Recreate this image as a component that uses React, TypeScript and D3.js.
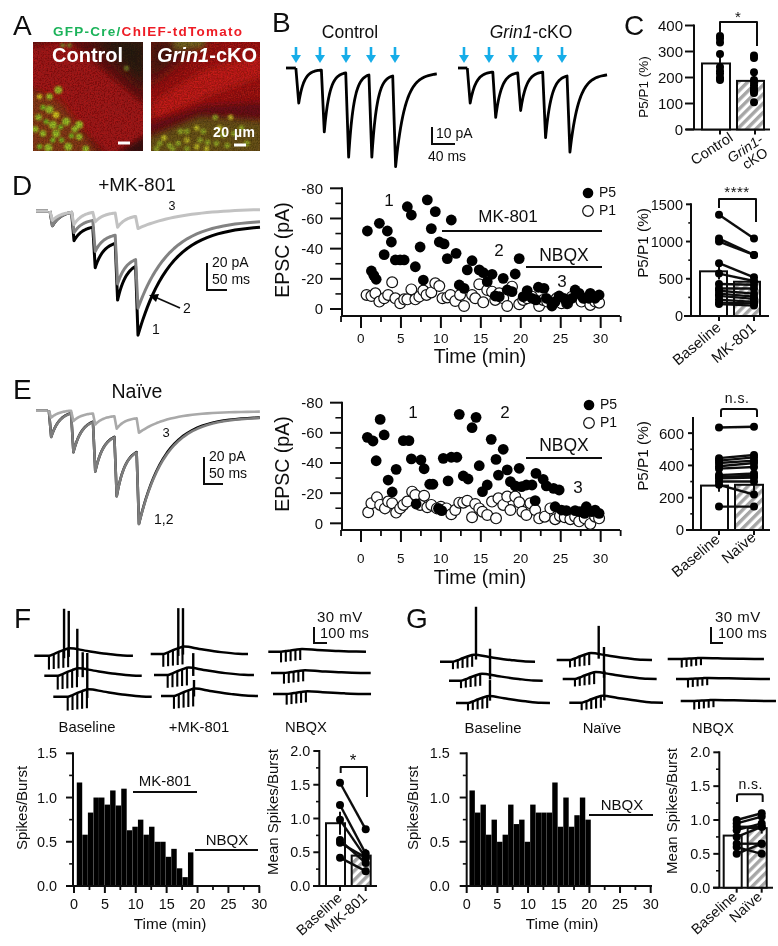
import React from "react";
import * as d3 from "d3";

// ---------- data ----------
type P = [number, number];
const stimOnsetsCtrl = [17, 61, 103, 143, 184];
const ctrlPeaks = [20.6, 37.6, 52.4, 52.4, 58];
const ctrlRests = [1.2, 2.9, 4.1, 4.7, 3.5];
const stimOnsetsKO = [16, 60, 103, 146, 188];
const koPeaks = [20.6, 29, 25, 41, 49.5];
const koRests = [2.4, 2.9, 2.4, 4.7, 4.1];

const dOnsets = [35, 89, 142, 198, 249];
const dPeaks1 = [11, 22, 42, 66, 92];
const dRests1 = [1, 12, 24, 41, 12];
const dPeaks2 = [11, 16, 30, 54, 72];
const dRests2 = [1, 7, 18, 36, 8];
const dPeaks3 = [7, 10, 8, 12, 13];
const dRests3 = [1, 1, 1.5, 4, -1];

const eOnsets = [33, 90, 146, 201, 258];
const ePeaks12 = [19, 30, 44, 62, 82];
const eRests12 = [1.7, 8, 19, 30, 5];
const ePeaks3 = [5, 7.5, 10, 13, 16];
const eRests3 = [0, 2, 4, 5.5, 0.7];

const dP5: P[] = [[0.8,51.7],[1.3,25.2],[1.6,22.3],[1.9,19.7],[2.3,56.8],[2.9,36],[3.3,51.7],[3.8,44.4],[4.3,32.5],[4.9,32.5],[5.4,32.5],[5.8,67.8],[6.3,62.3],[6.8,28],[7.4,41.1],[7.8,19.2],[8.3,72.3],[8.8,53.3],[9.3,64.5],[9.8,44.4],[10.4,43.1],[10.8,33.4],[11.3,59],[11.9,36.9],[12.3,15.9],[12.9,13.7],[13.3,25.9],[13.9,32],[14.8,25.9],[15.3,24.1],[15.8,18.1],[16.4,23],[16.8,8.6],[17.3,8.2],[17.8,20.3],[18.3,12.6],[18.9,11.5],[19.3,23.2],[19.8,33.4],[20.3,8.2],[20.8,12.2],[21.4,7.1],[21.9,6],[22.2,14.4],[22.9,13.7],[23.2,7.1],[23.9,2],[24.3,4.9],[24.8,8.6],[25.4,7.1],[25.8,3.8],[26.4,7.1],[26.8,12.6],[27.3,10.4],[27.8,7.1],[28.5,7.1],[28.7,10.4],[29.3,7.1],[29.8,9.3]];
const dP1: P[] = [[0.7,9.3],[1.3,8.6],[1.8,10.4],[2.3,4.9],[2.9,7.1],[3.4,9.3],[3.9,17.7],[4.3,7.1],[4.9,3.8],[5.4,6.4],[5.8,6.4],[6.3,13],[6.8,6.4],[7.3,8.2],[7.8,12.2],[8.2,9.3],[8.8,11],[9.3,17],[9.8,15.2],[10.2,7.1],[10.8,7.7],[11.2,9.3],[11.8,5.3],[12.4,9.3],[12.9,2],[13.9,9.3],[14.3,7.1],[14.8,16.4],[15.3,4.4],[15.8,12.6],[16.4,11.5],[16.8,6],[17.3,10.4],[17.8,7.1],[18.3,2],[18.9,14.8],[19.8,3.1],[20.3,6],[20.8,7.1],[21.4,8.2],[22.3,2],[22.8,6],[23.3,4.9],[23.9,4.9],[24.5,7.1],[25.1,3.8],[25.8,3.8],[26.4,8.2],[27,8.2],[27.6,4.9],[28.2,7.1],[28.7,2.7],[29.3,4.9],[29.8,4.2]];
const eP5: P[] = [[0.8,57],[1.5,54.6],[1.9,41.5],[2.4,68.9],[2.9,58.6],[3.4,28.7],[3.9,20.8],[4.4,35.8],[5.3,54.8],[6,54.8],[6.3,42.7],[6.9,12.8],[7.5,42],[7.9,36.2],[8.6,25.9],[9,25.9],[9.7,9.9],[10.1,8.4],[10.3,43.1],[10.9,28.1],[11.3,43.8],[12,43.8],[12.3,72.3],[12.8,31.4],[13.4,29.4],[13.9,63.4],[14.4,70.3],[14.8,38.2],[15.2,21],[15.8,25.4],[16.3,55.7],[16.9,42.4],[17.2,32],[17.8,49.1],[18.3,35.4],[18.7,27.6],[19.3,24.8],[19.8,36.5],[20.1,24.3],[20.7,25.4],[21.4,25.4],[21.8,15],[21.9,33.1],[22.8,29.2],[23.2,24.8],[24.1,23.2],[24.8,22.1],[24.3,11],[25.1,8.8],[25.7,8.4],[26.8,8.4],[27.4,7.7],[28,6.6],[28.2,11],[28.9,7.7],[29.3,8.8],[29.8,6.6]];
const eP1: P[] = [[0.9,7.3],[1.3,13.3],[2,17.2],[2.4,12.2],[3,9.9],[3.4,14.4],[3.9,13.3],[4.4,7.1],[4.9,9.9],[5.3,12.2],[5.8,14.4],[6.4,21],[6.8,18.8],[7.4,12.2],[7.9,18.3],[8.3,10.6],[8.8,12.2],[9.5,9.9],[10,11],[10.7,9.9],[11.3,6],[11.8,8.8],[12.3,13.7],[12.8,13.7],[13.3,15],[13.9,4],[14.3,12.8],[14.8,9.9],[15.2,7.7],[15.8,5.5],[16.4,14.4],[16.9,3.3],[17.2,16.6],[17.8,12.2],[18.3,17.7],[18.7,8.8],[19.3,17.7],[19.8,13.9],[20.2,7.7],[20.7,5.5],[21.2,13.3],[21.8,8.8],[22.3,3.3],[23,4.4],[23.7,9.9],[24.3,2.7],[24.9,4.9],[25.5,4],[26.2,2.7],[26.8,4.4],[27.3,1.3],[28,3.3],[28.7,-0.4],[29.3,4.4],[29.8,3.3]];

const cControl = [360, 350, 335, 290, 240, 225, 215, 200, 190];
const cKO = [285, 275, 220, 190, 180, 170, 160, 150, 140, 105];
const dBase = [1360, 1040, 1000, 710, 570, 430, 370, 340, 300, 270, 220, 180, 160];
const dMK = [1040, 820, 820, 520, 470, 420, 370, 300, 260, 230, 190, 170, 140];
const eBase = [635, 445, 430, 415, 395, 380, 340, 330, 320, 300, 280, 145];
const eNaive = [640, 465, 450, 430, 415, 390, 350, 335, 325, 300, 220, 145];
const fBase = [1.53, 1.2, 0.98, 0.68, 0.64, 0.42];
const fMK = [0.84, 0.48, 0.42, 0.34, 0.42, 0.22];
const gBase = [1.0, 0.95, 0.9, 0.85, 0.75, 0.65, 0.6, 0.5];
const gNaive = [1.1, 1.05, 0.9, 0.95, 0.9, 0.65, 0.5, 0.65];

const fHist = [1.17, 0.58, 0.83, 1.0, 1.0, 0.92, 1.08, 0.91, 1.1, 0.63, 0.67, 0.75, 0.58, 0.67, 0.5, 0.5, 0.33, 0.42, 0.2, 0.1, 0.38];
const gHist = [1.08, 0.83, 0.92, 0.58, 0.75, 0.5, 0.58, 0.92, 0.7, 0.75, 0.5, 0.92, 0.83, 0.83, 0.83, 1.17, 0.67, 1.0, 0.67, 0.8, 1.0, 0.75];
const binWidthMin = 0.9;

type Sweep = { dur: number; pre: number; spikes: P[] };
const fSweepsBaseline: Sweep[] = [
  { dur: 822, pre: 122, spikes: [[248, 88], [287, 84]] },
  { dur: 812, pre: 112, spikes: [[275, 88], [320, 44]] },
  { dur: 820, pre: 120, spikes: [[283, 82]] },
];
const fSweepsMK: Sweep[] = [
  { dur: 811, pre: 105, spikes: [[230, 86], [269, 86]] },
  { dur: 833, pre: 114, spikes: [[327, 41]] },
  { dur: 808, pre: 108, spikes: [[275, 30]] },
];
const fSweepsNBQX: Sweep[] = [
  { dur: 814, pre: 106, spikes: [] },
  { dur: 831, pre: 108, spikes: [] },
  { dur: 817, pre: 114, spikes: [] },
];
const gSweepsBaseline: Sweep[] = [
  { dur: 792, pre: 108, spikes: [[300, 103]] },
  { dur: 781, pre: 100, spikes: [[342, 60]] },
  { dur: 783, pre: 100, spikes: [[283, 43]] },
];
const gSweepsNaive: Sweep[] = [
  { dur: 794, pre: 111, spikes: [[350, 64]] },
  { dur: 783, pre: 102, spikes: [[344, 60]] },
  { dur: 781, pre: 103, spikes: [[292, 60]] },
];
const gSweepsNBQX: Sweep[] = [
  { dur: 802, pre: 117, spikes: [] },
  { dur: 783, pre: 100, spikes: [] },
  { dur: 794, pre: 113, spikes: [] },
];

const cellsLeft: P[] = [[.06,.5],[.15,.5],[.23,.44],[.09,.6],[.21,.67],[.30,.73],[.12,.73],[.05,.69],[.21,.84],[.35,.86],[.42,.87],[.32,.96],[.18,.9],[.09,.84],[.42,.76],[.06,.96],[.27,.03],[.33,.03],[.85,.24],[.48,.98],[.15,.62],[.25,.78],[.02,.8],[.14,.97],[.26,.9],[.38,.8],[.18,.76]];
const cellsRight: P[] = [[.42,.79],[.48,.82],[.45,.9],[.52,.92],[.33,.9],[.25,.93],[.17,.95],[.08,.93],[.63,.79],[.66,.85],[.6,.93],[.59,.69],[.73,.69],[.76,.84],[.33,.82],[.27,.82],[.42,.96],[.2,.98],[.05,.98],[.88,.93],[.51,.98],[.33,.98],[.83,.79],[.7,.95],[.12,.88]];

// ---------- helpers ----------
const FONT = "'Liberation Sans', Arial, sans-serif";
const INK = "#111";

function T({ x, y, s = 14, a = "start", c = INK, w, i, ls, rot, children }: any) {
  return (
    <text
      x={rot === undefined ? x : 0}
      y={rot === undefined ? y : 0}
      transform={rot === undefined ? undefined : `translate(${x},${y}) rotate(${rot})`}
      fontSize={s}
      textAnchor={a}
      fill={c}
      fontWeight={w}
      fontStyle={i ? "italic" : undefined}
      letterSpacing={ls}
    >
      {children}
    </text>
  );
}

const L = ({ x1, y1, x2, y2, w = 2, c = INK, cap = "butt" }: any) => (
  <line x1={x1} y1={y1} x2={x2} y2={y2} stroke={c} strokeWidth={w} strokeLinecap={cap} />
);

// EPSC waveform from onsets, peak amplitudes and end-of-pulse levels
function epscPoints(onsets: number[], peaks: number[], rests: number[], end: number, tau: number, tauLast: number, delay: number) {
  const pts: P[] = [];
  let prev = 0;
  onsets.forEach((t0, i) => {
    const next = i < onsets.length - 1 ? onsets[i + 1] : end;
    const tpk = t0 + delay;
    pts.push([t0, prev]);
    pts.push([tpk, peaks[i]]);
    const tt = i < onsets.length - 1 ? tau : tauLast;
    const span = next - tpk;
    const e0 = Math.exp(-span / tt);
    d3.range(1, 31).forEach((k) => {
      const d = (k / 30) ** 1.6 * span;
      const f = (Math.exp(-d / tt) - e0) / (1 - e0);
      pts.push([tpk + d, rests[i] + (peaks[i] - rests[i]) * f]);
    });
    prev = rests[i];
  });
  return pts;
}

function Trace({ ox, oy, pxMs, pxPa, pts, w = 2.4, c = "#000", lead }: any) {
  const x = d3.scaleLinear().domain([0, 1]).range([ox, ox + pxMs]);
  const y = d3.scaleLinear().domain([0, 1]).range([oy, oy + pxPa]);
  const line = d3.line<P>().x((d) => x(d[0])).y((d) => y(d[1]));
  return (
    <g fill="none" stroke={c} strokeWidth={w} strokeLinejoin="round">
      {lead !== undefined && <path d={line([[0, 0], [lead, 0]])!} />}
      <path d={line(pts)!} />
    </g>
  );
}

function YAxis({ x, scale, major, minor = [], fmt = String, s = 14.5, len = 7, gap = 3, top, bottom, w = 2 }: any) {
  return (
    <g>
      <L x1={x} x2={x} y1={top ?? scale(major[major.length - 1]) - 1} y2={bottom ?? scale(major[0])} w={w} />
      {minor.map((v: number) => <L key={v} x1={x - len * 0.55} x2={x} y1={scale(v)} y2={scale(v)} w={1.6} />)}
      {major.map((v: number) => (
        <g key={v}>
          <L x1={x - len} x2={x} y1={scale(v)} y2={scale(v)} w={w} />
          <T x={x - len - gap} y={scale(v) + s * 0.36} s={s} a="end">{fmt(v)}</T>
        </g>
      ))}
    </g>
  );
}

function XAxis({ y, scale, major, minor = [], x1, x2, s = 13.5, len = 12, minorLen = 6, baseline, w = 2, ls }: any) {
  return (
    <g>
      <L x1={x1} x2={x2} y1={y} y2={y} w={w} />
      {minor.map((v: number) => <L key={v} x1={scale(v)} x2={scale(v)} y1={y} y2={y + minorLen} w={1.8} />)}
      {major.map((v: number) => (
        <g key={v}>
          <L x1={scale(v)} x2={scale(v)} y1={y} y2={y + len} w={w} />
          <T x={scale(v)} y={baseline} s={s} a="middle" ls={ls}>{v}</T>
        </g>
      ))}
    </g>
  );
}

const Arrow = ({ x }: { x: number }) => (
  <path d={`M${x - 1.3},47 H${x + 1.3} V55 H${x + 5} L${x},63 L${x - 5},55 H${x - 1.3} Z`} fill="#17ade8" />
);

function Bracket({ x1, x2, yLeft, yTop, yRight }: any) {
  return <path d={`M${x1},${yLeft} V${yTop} H${x2} V${yRight}`} fill="none" stroke={INK} strokeWidth={2} strokeLinejoin="round" />;
}

function Bars({ x1, x2, bw, y, means, sems, groups, paired, r = 4, sw = 2.4 }: any) {
  const y0 = y(0);
  return (
    <g>
      {[x1, x2].map((cx: number, i: number) => (
        <g key={i}>
          <rect x={cx - bw[i][0]} width={bw[i][0] + bw[i][1]} y={y(means[i])} height={y0 - y(means[i])} fill={i ? "url(#hatch)" : "#fff"} stroke={INK} strokeWidth={2} />
          <L x1={cx} x2={cx} y1={y(means[i] + sems[i])} y2={y(means[i] - sems[i])} w={2} />
        </g>
      ))}
      {paired && groups[0].map((v: number, i: number) => (
        <L key={i} x1={x1} x2={x2} y1={y(v)} y2={y(groups[1][i])} w={sw} />
      ))}
      {groups.map((g: number[], k: number) => g.map((v: number, i: number) => (
        <circle key={`${k}-${i}`} cx={k ? x2 : x1} cy={y(v)} r={r} fill="#000" />
      )))}
    </g>
  );
}

function Scatter({ x, y, p5, p1, r = 5.4 }: any) {
  return (
    <g>
      {p1.map((d: P, i: number) => <circle key={i} cx={x(d[0])} cy={y(d[1])} r={r} fill="#fff" stroke="#111" strokeWidth={1.2} />)}
      {p5.map((d: P, i: number) => <circle key={i} cx={x(d[0])} cy={y(d[1])} r={r} fill="#000" />)}
    </g>
  );
}

function Hist({ x, y, values }: any) {
  const w = x(binWidthMin) - x(0);
  return (
    <g>
      {values.map((v: number, i: number) => {
        const c = binWidthMin * (i + 1);
        return <rect key={i} x={x(c) - w / 2} width={w - 0.12} y={y(v)} height={y(0) - y(v)} fill="#000" />;
      })}
    </g>
  );
}

const spikeX = d3.scaleLinear().domain([0, 100]).range([0, 12]);
const spikeY = d3.scaleLinear().domain([0, 30]).range([0, 16]);

function SweepGroup({ sweeps, xs, ys, rise, drop }: any) {
  return (
    <g>
      {sweeps.map((sw: Sweep, i: number) => {
        const key: P[] = [
          [0, 0], [sw.pre, 0],
          [sw.pre + 40, rise * 0.22], [sw.pre + 80, rise * 0.5], [sw.pre + 120, rise * 0.75], [sw.pre + 175, rise],
          [sw.pre + 300, rise * 0.68], [sw.pre + 480, rise * 0.25], [sw.dur * 0.9, rise * 0.03], [sw.dur, 0],
        ];
        const ramp = d3.scaleLinear().domain(key.map((d) => d[0])).range(key.map((d) => d[1]));
        const px = (t: number) => xs[i] + spikeX(t);
        const py = (v: number) => ys[i] - spikeY(v);
        const line = d3.line<P>().x((d) => px(d[0])).y((d) => py(d[1])).curve(d3.curveMonotoneX);
        return (
          <g key={i}>
            <path d={line(key)!} fill="none" stroke="#000" strokeWidth={2.5} />
            {d3.range(5).map((k) => {
              const t = sw.pre + 40 * k;
              return <L key={k} x1={px(t)} x2={px(t)} y1={py(ramp(t))} y2={py(-drop + k * 1.1)} w={2.1} c="#000" />;
            })}
            {sw.spikes.map((s, k) => (
              <L key={k} x1={px(s[0])} x2={px(s[0])} y1={py(s[1])} y2={py(ramp(s[0]) - drop * 0.6)} w={2.4} c="#000" />
            ))}
          </g>
        );
      })}
    </g>
  );
}

function Micro({ x, y, w, h, id, children }: any) {
  return (
    <g>
      <clipPath id={id}><rect x={x} y={y} width={w} height={h} /></clipPath>
      <g clipPath={`url(#${id})`}>
        {children}
        <rect x={x} y={y} width={w} height={h} filter="url(#grain)" opacity={0.38} />
      </g>
    </g>
  );
}

export default function App() {
  // ---- scales ----
  const cY = d3.scaleLinear().domain([0, 400]).range([129.5, 25.5]);
  const scatterX = d3.scaleLinear().domain([0, 30]).range([361, 600.7]);
  const dY = d3.scaleLinear().domain([0, 80]).range([309, 188.3]);
  const eY = d3.scaleLinear().domain([0, 80]).range([523.3, 402.7]);
  const dBarY = d3.scaleLinear().domain([0, 1500]).range([316, 204.3]);
  const eBarY = d3.scaleLinear().domain([0, 700]).range([530, 417]);
  const fX = d3.scaleLinear().domain([0, 30]).range([74, 259.3]);
  const gX = d3.scaleLinear().domain([0, 30]).range([466.7, 650.7]);
  const hY = d3.scaleLinear().domain([0, 1.5]).range([886, 753.3]);
  const fBarY = d3.scaleLinear().domain([0, 2]).range([886, 751]);
  const gBarY = d3.scaleLinear().domain([0, 2]).range([887.7, 752.3]);

  const uL = d3.scaleLinear().domain([0, 1]).range([33, 143]);
  const vL = d3.scaleLinear().domain([0, 1]).range([42, 151]);
  const uR = d3.scaleLinear().domain([0, 1]).range([151, 260]);
  const vR = d3.scaleLinear().domain([0, 1]).range([42, 151]);
  const poly = (u: any, v: any, pts: number[][]) => pts.map((p) => `${u(p[0])},${v(p[1])}`).join(" ");

  const eRange = d3.range(-2.5, 33, 5);
  const fmt1 = (v: number) => v.toFixed(1);
  const neg = (v: number) => (v === 0 ? "0" : `-${v}`);

  return (
    <svg width={778} height={946} viewBox="0 0 778 946" style={{ position: "absolute", left: 0, top: 0, background: "#fff", fontFamily: FONT }}>
      <defs>
        <pattern id="hatch" patternUnits="userSpaceOnUse" width={6.5} height={6.5} patternTransform="rotate(45)">
          <rect width={6.5} height={6.5} fill="#fff" />
          <rect width={3.4} height={6.5} fill="#a6a6a6" />
        </pattern>
        <filter id="blur8" x="-30%" y="-30%" width="160%" height="160%"><feGaussianBlur stdDeviation="7" /></filter>
        <filter id="blur3" x="-30%" y="-30%" width="160%" height="160%"><feGaussianBlur stdDeviation="3" /></filter>
        <filter id="blurCell"><feGaussianBlur stdDeviation="0.9" /></filter>
        <filter id="soft" x="0" y="0" width="100%" height="100%"><feGaussianBlur stdDeviation="0.3" /></filter>
        <filter id="grain" x="0" y="0" width="100%" height="100%">
          <feTurbulence type="fractalNoise" baseFrequency="0.7" numOctaves="2" seed="4" />
          <feColorMatrix values="0 0 0 0 0  0 0 0 0 0  0 0 0 0 0  1.6 0 0 0 -0.45" />
        </filter>
      </defs>

      <g filter="url(#soft)">
      {/* panel letters */}
      <T x={13} y={35} s={28}>A</T>
      <T x={272} y={32} s={28}>B</T>
      <T x={624} y={35} s={28}>C</T>
      <T x={12} y={195} s={28}>D</T>
      <T x={13} y={399} s={28}>E</T>
      <T x={14} y={628} s={28}>F</T>
      <T x={406} y={628} s={28}>G</T>

      {/* A */}
      <text x={53} y={36} fontSize={13.5} fontWeight="bold" textLength={189} lengthAdjust="spacing">
        <tspan fill="#1bb35a">GFP-Cre/</tspan><tspan fill="#ee1c25">ChIEF-tdTomato</tspan>
      </text>
      <Micro x={33} y={42} w={110} h={109} id="imgL">
        <rect x={33} y={42} width={110} height={109} fill="#6c1210" />
        <polygon points={poly(uL, vL, [[1.05, -0.05], [1.05, 0.45], [0.5, -0.05]])} fill="#2c1f0e" filter="url(#blur8)" />
        <polygon points={poly(uL, vL, [[-0.05, 0.05], [0.3, -0.02], [1.05, 0.6], [1.05, 0.85], [0.7, 1.05], [-0.05, 0.38]])} fill="#a81617" filter="url(#blur3)" />
        <polygon points={poly(uL, vL, [[0.75, 1.05], [1.05, 0.85], [1.05, 1.05]])} fill="#3a0c0c" filter="url(#blur3)" />
        <polygon points={poly(uL, vL, [[-0.05, 0.42], [0.25, 0.55], [0.62, 1.05], [-0.05, 1.05]])} fill="#8a3a12" filter="url(#blur3)" />
        <g filter="url(#blurCell)" opacity={0.88}>
          {cellsLeft.map((d, i) => (
            <circle key={i} cx={uL(d[0])} cy={vL(d[1])} r={i >= 16 && i < 19 ? 2.6 : 2.6 + (i % 3) * 0.7} fill={i === 0 || i === 4 ? "#e8e820" : i >= 16 && i < 19 ? "#7d8a2a" : i % 3 === 0 ? "#7ed321" : "#a2d62a"} />
          ))}
        </g>
      </Micro>
      <Micro x={151} y={42} w={109} h={109} id="imgR">
        <rect x={151} y={42} width={109} height={109} fill="#a51413" />
        <polygon points={poly(uR, vR, [[-0.05, -0.05], [0.55, -0.05], [-0.05, 0.42]])} fill="#4e1210" filter="url(#blur8)" />
        <polygon points={poly(uR, vR, [[0.2, -0.05], [0.5, -0.05], [0.5, 0.05], [0.2, 0.08]])} fill="#7a6a20" filter="url(#blur3)" />
        <polygon points={poly(uR, vR, [[0.03, 0.55], [0.5, 0.25], [1.05, 0.12], [1.05, 0.3], [0.5, 0.5], [0.03, 0.72]])} fill="#c81a18" filter="url(#blur3)" />
        <polygon points={poly(uR, vR, [[-0.05, 0.75], [0.5, 0.58], [1.05, 0.55], [1.05, 0.72], [-0.05, 1.0]])} fill="#6e1012" filter="url(#blur3)" />
        <polygon points={poly(uR, vR, [[-0.05, 1.05], [-0.05, 0.88], [0.45, 0.68], [1.05, 0.72], [1.05, 1.05]])} fill="#6d5512" filter="url(#blur3)" />
        <g filter="url(#blurCell)" opacity={0.8}>
          {cellsRight.map((d, i) => (
            <circle key={i} cx={uR(d[0])} cy={vR(d[1])} r={2.8} fill={i % 4 === 0 ? "#d8d82a" : "#a0c02c"} />
          ))}
        </g>
      </Micro>
      <T x={52} y={62} s={20} w="bold" c="#fff">Control</T>
      <text x={157} y={62} fontSize={20} fontWeight="bold" fill="#fff"><tspan fontStyle="italic">Grin1</tspan>-cKO</text>
      <T x={213} y={137} s={14} w="bold" c="#fff" ls={0.5}>20 µm</T>
      <L x1={118} x2={130} y1={143} y2={143} w={3} c="#fff" />
      <L x1={234} x2={246} y1={145} y2={145} w={3} c="#fff" />

      {/* B */}
      <T x={350} y={38} s={17.5} a="middle">Control</T>
      <text x={531} y={38} fontSize={17.5} textAnchor="middle" fill={INK}><tspan fontStyle="italic">Grin1</tspan>-cKO</text>
      {[296, 320, 346, 371, 395, 464, 489, 513, 538, 562].map((x) => <Arrow key={x} x={x} />)}
      <Trace ox={286} oy={68} pxMs={0.58} pxPa={1.7} w={2.8} pts={epscPoints(stimOnsetsCtrl, ctrlPeaks, ctrlRests, 260, 9, 16, 5)} lead={17} />
      <Trace ox={458} oy={68} pxMs={0.58} pxPa={1.7} w={2.8} pts={epscPoints(stimOnsetsKO, koPeaks, koRests, 257, 10, 15, 5)} lead={16} />
      <path d="M432,127 V144 H455" fill="none" stroke={INK} strokeWidth={2} />
      <T x={436} y={138} s={14}>10 pA</T>
      <T x={428} y={161} s={14}>40 ms</T>

      {/* C */}
      <YAxis x={694} scale={cY} major={[0, 100, 200, 300, 400]} s={15} len={9} gap={2} />
      <L x1={686} x2={770} y1={cY(0)} y2={cY(0)} />
      <L x1={720} x2={720} y1={cY(0)} y2={cY(0) + 5} />
      <L x1={755} x2={755} y1={cY(0)} y2={cY(0) + 5} />
      <Bars x1={720} x2={754} bw={[[18, 10], [17, 10]]} y={cY} means={[254, 187]} sems={[25, 18]} groups={[cControl, cKO]} />
      <Bracket x1={720} x2={757} yLeft={33} yTop={22} yRight={46} />
      <T x={738} y={22} s={15} a="middle">*</T>
      <T x={648} y={87} s={13.5} a="middle" rot={-90}>P5/P1 (%)</T>
      <T x={734} y={140} s={14.5} a="end" rot={-33}>Control</T>
      <text transform="translate(764,142) rotate(-33)" fontSize={14} textAnchor="end" fontStyle="italic" fill={INK}>Grin1-</text>
      <text transform="translate(769,155) rotate(-33)" fontSize={14} textAnchor="end" fill={INK}>cKO</text>

      {/* D */}
      <T x={137} y={191} s={19} a="middle">+MK-801</T>
      <Trace ox={36} oy={211} pxMs={0.4} pxPa={1.35} w={3} c="#000" pts={epscPoints(dOnsets, dPeaks1, dRests1, 560, 22, 80, 6)} lead={30} />
      <Trace ox={36} oy={211} pxMs={0.4} pxPa={1.35} w={3} c="#828282" pts={epscPoints(dOnsets, dPeaks2, dRests2, 560, 22, 80, 6)} lead={30} />
      <Trace ox={36} oy={211} pxMs={0.4} pxPa={1.35} w={3} c="#c2c2c2" pts={epscPoints(dOnsets, dPeaks3, dRests3, 560, 22, 110, 6)} lead={30} />
      <T x={172} y={210} s={12.5} a="middle">3</T>
      <T x={187} y={313} s={14} a="middle">2</T>
      <T x={156} y={334} s={14} a="middle">1</T>
      <L x1={180} y1={308} x2={155} y2={297} w={1.8} />
      <path d="M149,295 L159,294 L156,302 Z" fill="#000" />
      <path d="M207,263 V290 H227" fill="none" stroke={INK} strokeWidth={2} />
      <T x={212} y={267} s={14}>20 pA</T>
      <T x={212} y={284} s={14}>50 ms</T>

      <YAxis x={342} scale={dY} major={[0, 20, 40, 60, 80]} minor={[10, 30, 50, 70]} fmt={neg} s={15} gap={7} bottom={316} len={12} />
      <XAxis y={316} scale={scatterX} major={[0, 5, 10, 15, 20, 25, 30]} minor={eRange} x1={341} x2={620} baseline={343} s={13.5} ls={0.4} />
      <Scatter x={scatterX} y={dY} p5={dP5} p1={dP1} />
      <T x={289} y={250} s={19.5} a="middle" rot={-90}>EPSC (pA)</T>
      <T x={480} y={363} s={19.5} a="middle">Time (min)</T>
      <T x={389} y={206} s={17} a="middle">1</T>
      <T x={499} y={256} s={17} a="middle">2</T>
      <T x={562} y={287} s={17} a="middle">3</T>
      <T x={508} y={222} s={17} a="middle">MK-801</T>
      <L x1={442} x2={602} y1={231} y2={231} />
      <T x={564} y={261} s={17.5} a="middle">NBQX</T>
      <L x1={526} x2={602} y1={267} y2={267} />
      <circle cx={588} cy={193} r={5.3} fill="#000" />
      <T x={599} y={197} s={14}>P5</T>
      <circle cx={588} cy={211} r={5.3} fill="#fff" stroke="#111" strokeWidth={1.2} />
      <T x={599} y={215} s={14}>P1</T>

      <YAxis x={691} scale={dBarY} major={[0, 500, 1000, 1500]} minor={[250, 750, 1250]} s={14.5} len={5} gap={3} />
      <L x1={684} x2={769} y1={316} y2={316} />
      <L x1={719} x2={719} y1={316} y2={321} />
      <L x1={754} x2={754} y1={316} y2={321} />
      <Bars x1={719} x2={754} bw={[[19, 8], [20, 6]]} y={dBarY} means={[600, 460]} sems={[110, 70]} groups={[dBase, dMK]} paired />
      <Bracket x1={719} x2={756} yLeft={208} yTop={199} yRight={222} />
      <T x={737} y={197} s={15} a="middle" ls={0.5}>****</T>
      <T x={648} y={243} s={15.3} a="middle" rot={-90}>P5/P1 (%)</T>
      <T x={722} y={329} s={15} a="end" rot={-40}>Baseline</T>
      <T x={757} y={330} s={15} a="end" rot={-40}>MK-801</T>

      {/* E */}
      <T x={137} y={398} s={19.5} a="middle">Naïve</T>
      <Trace ox={36} oy={410.7} pxMs={0.39} pxPa={1.38} w={2.6} c="#000" pts={epscPoints(eOnsets, ePeaks12, eRests12, 574, 22, 66, 6)} lead={30} />
      <Trace ox={36} oy={410.7} pxMs={0.39} pxPa={1.38} w={2.6} c="#7d7d7d" pts={epscPoints(eOnsets, ePeaks12, eRests12.map((v) => v + 0.3), 574, 22, 68, 6)} lead={30} />
      <Trace ox={36} oy={410.7} pxMs={0.39} pxPa={1.38} w={2.6} c="#a9a9a9" pts={epscPoints(eOnsets, ePeaks3, eRests3, 574, 22, 75, 6)} lead={30} />
      <T x={166} y={437} s={13} a="middle">3</T>
      <T x={154} y={524} s={14}>1,2</T>
      <path d="M204,457 V484 H223" fill="none" stroke={INK} strokeWidth={2} />
      <T x={209} y={461} s={14}>20 pA</T>
      <T x={209} y={478} s={14}>50 ms</T>

      <YAxis x={342} scale={eY} major={[0, 20, 40, 60, 80]} minor={[10, 30, 50, 70]} fmt={neg} s={15} gap={7} bottom={530} len={12} />
      <XAxis y={530} scale={scatterX} major={[0, 5, 10, 15, 20, 25, 30]} minor={eRange} x1={341} x2={620} baseline={563} s={13.5} ls={0.4} />
      <Scatter x={scatterX} y={eY} p5={eP5} p1={eP1} />
      <T x={289} y={464} s={19.5} a="middle" rot={-90}>EPSC (pA)</T>
      <T x={480} y={584} s={19.5} a="middle">Time (min)</T>
      <T x={413} y={418} s={17} a="middle">1</T>
      <T x={505} y={418} s={17} a="middle">2</T>
      <T x={578} y={493} s={17} a="middle">3</T>
      <T x={564} y={451} s={17.5} a="middle">NBQX</T>
      <L x1={526} x2={602} y1={458} y2={458} />
      <circle cx={589} cy={405} r={5.3} fill="#000" />
      <T x={600} y={409} s={14}>P5</T>
      <circle cx={589} cy={423} r={5.3} fill="#fff" stroke="#111" strokeWidth={1.2} />
      <T x={600} y={427} s={14}>P1</T>

      <YAxis x={693} scale={eBarY} major={[0, 200, 400, 600]} minor={[100, 300, 500]} s={15} top={417} len={5} gap={4} />
      <L x1={686} x2={770} y1={530} y2={530} />
      <L x1={719} x2={719} y1={530} y2={535} />
      <L x1={754} x2={754} y1={530} y2={535} />
      <Bars x1={719} x2={754} bw={[[18, 9], [19, 9]]} y={eBarY} means={[275, 280]} sems={[38, 40]} groups={[eBase, eNaive]} paired />
      <path d="M721,417 V411 Q721,409 723,409 H755 Q757,409 757,411 V417" fill="none" stroke={INK} strokeWidth={2} />
      <T x={737} y={403} s={14} a="middle" ls={0.5}>n.s.</T>
      <T x={648} y={456} s={15.3} a="middle" rot={-90}>P5/P1 (%)</T>
      <T x={721} y={541} s={15} a="end" rot={-40}>Baseline</T>
      <T x={757} y={539} s={15} a="end" rot={-40}>Naïve</T>

      {/* F traces */}
      <SweepGroup sweeps={fSweepsBaseline} xs={[34.3, 44.3, 53.3]} ys={[655.7, 675.7, 696.7]} rise={14} drop={26} />
      <SweepGroup sweeps={fSweepsMK} xs={[150.7, 154, 161]} ys={[654, 675, 696]} rise={14} drop={24} />
      <SweepGroup sweeps={fSweepsNBQX} xs={[268.3, 271, 273]} ys={[651.7, 673, 694]} rise={5} drop={20} />
      <T x={317} y={622} s={15} ls={0.5}>30 mV</T>
      <T x={320} y={638} s={14.6} ls={0.2}>100 ms</T>
      <path d="M314,627 V643 H327" fill="none" stroke={INK} strokeWidth={2} />
      <T x={87} y={732} s={14.8} a="middle">Baseline</T>
      <T x={199} y={732} s={14.8} a="middle">+MK-801</T>
      <T x={306} y={732} s={14.8} a="middle">NBQX</T>

      {/* G traces */}
      <SweepGroup sweeps={gSweepsBaseline} xs={[440, 449, 456]} ys={[661.7, 680.7, 703]} rise={13} drop={14} />
      <SweepGroup sweeps={gSweepsNaive} xs={[556.7, 562.7, 569.3]} ys={[660, 679, 702.7]} rise={13} drop={14} />
      <SweepGroup sweeps={gSweepsNBQX} xs={[667.7, 676, 680.7]} ys={[659, 679, 701]} rise={2} drop={16} />
      <T x={715} y={622} s={15} ls={0.5}>30 mV</T>
      <T x={718} y={638} s={14.6} ls={0.2}>100 ms</T>
      <path d="M711,627 V643 H723" fill="none" stroke={INK} strokeWidth={2} />
      <T x={493} y={733} s={14.8} a="middle">Baseline</T>
      <T x={602} y={733} s={14.8} a="middle">Naïve</T>
      <T x={713} y={733} s={14.8} a="middle">NBQX</T>

      {/* F bottom */}
      <Hist x={fX} y={hY} values={fHist} />
      <YAxis x={73} scale={hY} major={[0, 0.5, 1, 1.5]} minor={[0.25, 0.75, 1.25]} fmt={fmt1} s={14.4} gap={9} />
      <XAxis y={886} scale={fX} major={[0, 5, 10, 15, 20, 25, 30]} minor={[2.5, 7.5, 12.5, 17.5, 22.5, 27.5]} x1={67} x2={260} baseline={909} s={14.4} len={7} minorLen={4} />
      <T x={27} y={808} s={15} a="middle" rot={-90}>Spikes/Burst</T>
      <T x={170} y={929} s={15.3} a="middle">Time (min)</T>
      <T x={165} y={786} s={15} a="middle">MK-801</T>
      <L x1={133} x2={197} y1={792} y2={792} w={1.8} />
      <T x={227} y={845} s={15} a="middle">NBQX</T>
      <L x1={195} x2={258} y1={850} y2={850} w={1.8} />

      <YAxis x={319.3} scale={fBarY} major={[0, 0.5, 1, 1.5, 2]} minor={[0.25, 0.75, 1.25, 1.75]} fmt={fmt1} s={14.4} gap={3} len={6} />
      <L x1={313} x2={377} y1={886} y2={886} />
      <L x1={340} x2={340} y1={886} y2={891} />
      <L x1={365.7} x2={365.7} y1={886} y2={891} />
      <Bars x1={340} x2={365.7} bw={[[14, 5], [14, 5]]} y={fBarY} means={[0.93, 0.45]} sems={[0.17, 0.1]} groups={[fBase, fMK]} paired />
      <Bracket x1={340.7} x2={367} yLeft={773} yTop={767} yRight={797} />
      <T x={353} y={766} s={17} a="middle">*</T>
      <T x={278} y={812} s={15} a="middle" rot={-90}>Mean Spikes/Burst</T>
      <T x={343} y={899} s={14.5} a="end" rot={-42}>Baseline</T>
      <T x={368} y={899} s={14.5} a="end" rot={-42}>MK-801</T>

      {/* G bottom */}
      <Hist x={gX} y={hY} values={gHist} />
      <YAxis x={466.7} scale={hY} major={[0, 0.5, 1, 1.5]} minor={[0.25, 0.75, 1.25]} fmt={fmt1} s={14.4} gap={10} />
      <XAxis y={886} scale={gX} major={[0, 5, 10, 15, 20, 25, 30]} minor={[2.5, 7.5, 12.5, 17.5, 22.5, 27.5]} x1={460} x2={652} baseline={909} s={14.4} len={7} minorLen={4} />
      <T x={418} y={808} s={15} a="middle" rot={-90}>Spikes/Burst</T>
      <T x={562} y={929} s={15.3} a="middle">Time (min)</T>
      <T x={622} y={810} s={15} a="middle">NBQX</T>
      <L x1={589} x2={653} y1={815} y2={815} w={1.8} />

      <YAxis x={719.3} scale={gBarY} major={[0, 0.5, 1, 1.5, 2]} minor={[0.25, 0.75, 1.25, 1.75]} fmt={fmt1} s={14.4} gap={3} len={6} />
      <L x1={713} x2={773} y1={887.7} y2={887.7} />
      <L x1={736.7} x2={736.7} y1={887.7} y2={892.7} />
      <L x1={761.7} x2={761.7} y1={887.7} y2={892.7} />
      <Bars x1={736.7} x2={761.7} bw={[[13, 5], [14, 5]]} y={gBarY} means={[0.77, 0.88]} sems={[0.07, 0.08]} groups={[gBase, gNaive]} paired />
      <path d="M737,802 V796 Q737,794.3 739,794.3 H761 Q762.7,794.3 762.7,796 V802" fill="none" stroke={INK} strokeWidth={2} />
      <T x={750.7} y={789} s={14} a="middle" ls={0.5}>n.s.</T>
      <T x={676.7} y={811} s={15} a="middle" rot={-90}>Mean Spikes/Burst</T>
      <T x={738} y={898} s={14.5} a="end" rot={-42}>Baseline</T>
      <T x={763} y={898} s={14.5} a="end" rot={-42}>Naïve</T>
      </g>
    </svg>
  );
}
